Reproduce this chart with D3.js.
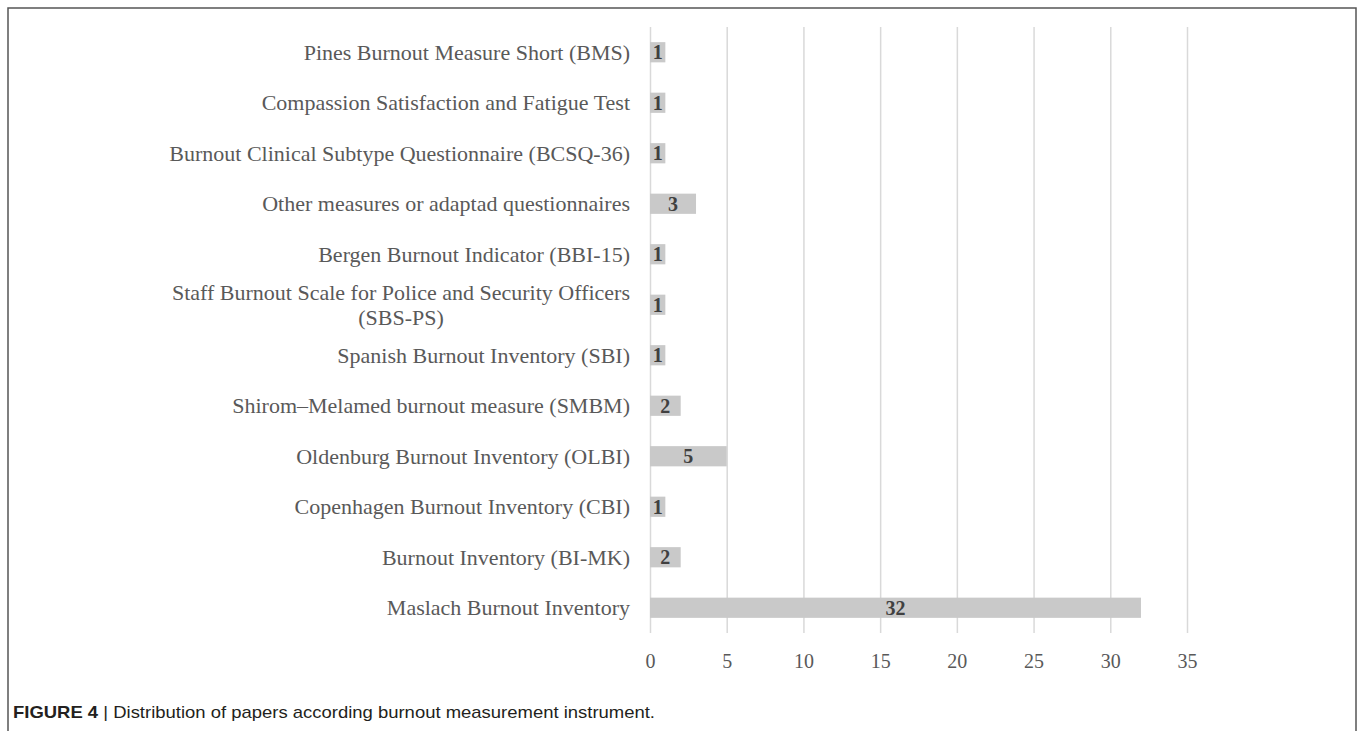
<!DOCTYPE html>
<html>
<head>
<meta charset="utf-8">
<script src="https://cdn.jsdelivr.net/npm/d3@7"></script>
<style>
  body { margin: 0; background: #fff; }
  svg { display: block; }
</style>
</head>
<body>
<svg id="chart" width="1358" height="731"></svg>
<script>
// categories from top to bottom, as in the figure
var instruments = [
    ["Pines Burnout Measure Short (BMS)"],
    ["Compassion Satisfaction and Fatigue Test"],
    ["Burnout Clinical Subtype Questionnaire (BCSQ-36)"],
    ["Other measures or adaptad questionnaires"],
    ["Bergen Burnout Indicator (BBI-15)"],
    ["Staff Burnout Scale for Police and Security Officers", "(SBS-PS)"],
    ["Spanish Burnout Inventory (SBI)"],
    ["Shirom\u2013Melamed burnout measure (SMBM)"],
    ["Oldenburg Burnout Inventory (OLBI)"],
    ["Copenhagen Burnout Inventory (CBI)"],
    ["Burnout Inventory (BI-MK)"],
    ["Maslach Burnout Inventory"]
];
var papers = [1, 1, 1, 3, 1, 1, 1, 2, 5, 1, 2, 32];
var xTicks = [0, 5, 10, 15, 20, 25, 30, 35];

var svg = d3.select("#chart");

var marge = {haut: 27, droite: 171, bas: 96, gauche: 650};
var largeur = 1358, hauteur = 731;

var xScale = d3.scaleLinear().domain([0, 35]).range([marge.gauche, largeur - marge.droite]);
var yScale = d3.scaleBand()
    .domain(d3.range(instruments.length))
    .range([marge.haut, hauteur - marge.bas - 2])
    .paddingInner(0.6)
    .paddingOuter(0.3);

// frame around the figure
svg.append("rect")
    .attr("x", 8).attr("y", 8)
    .attr("width", 1348).attr("height", 760)
    .style("fill", "none")
    .style("stroke", "#555")
    .style("stroke-width", 1.5);

// vertical grid + tick labels
var gridBas = hauteur - marge.bas - 2;
var xAxis = g => g
    .attr("transform", `translate(0,${gridBas})`)
    .call(d3.axisBottom(xScale).tickValues(xTicks).tickSize(-(gridBas - marge.haut)).tickPadding(21))
    .call(g => g.select(".domain").remove())
    .call(g => g.selectAll(".tick line").style("stroke", "#d9d9d9").style("stroke-width", 1.5))
    .call(g => g.selectAll(".tick text")
        .style("font-family", "'Liberation Serif', 'Times New Roman', serif")
        .style("font-size", "20px")
        .style("fill", "#595959"));
svg.append("g").call(xAxis);

// bars
svg.selectAll("rect.bar")
    .data(papers)
    .enter()
    .append("rect")
    .attr("class", "bar")
    .attr("x", xScale(0))
    .attr("y", (d, i) => yScale(i))
    .attr("width", d => xScale(d) - xScale(0))
    .attr("height", yScale.bandwidth())
    .style("fill", "#c9c9c9");

// value labels
svg.selectAll("text.valeur")
    .data(papers)
    .enter()
    .append("text")
    .attr("class", "valeur")
    .attr("x", d => (xScale(d) + xScale(0)) / 2)
    .attr("y", (d, i) => yScale(i) + yScale.bandwidth() / 2)
    .attr("dy", "0.36em")
    .style("text-anchor", "middle")
    .style("font-family", "'Liberation Serif', 'Times New Roman', serif")
    .style("font-weight", "bold")
    .style("font-size", "20px")
    .style("fill", "#404040")
    .text(d => d);

// category labels (wrapped ones centred on the longest line)
var etiquettes = svg.selectAll("g.etiquette")
    .data(instruments)
    .enter()
    .append("g")
    .attr("class", "etiquette")
    .attr("transform", (d, i) => `translate(630,${yScale(i) + yScale.bandwidth() / 2})`);

etiquettes.each(function(lignes) {
    var g = d3.select(this);
    var t = g.append("text")
        .style("font-family", "'Liberation Serif', 'Times New Roman', serif")
        .style("font-size", "22px")
        .style("fill", "#595959");
    if (lignes.length == 1) {
        t.attr("text-anchor", "end").attr("dy", "0.35em").text(lignes[0]);
    } else {
        t.text(lignes[0]);
        var w = t.node().getComputedTextLength();
        t.text(null).attr("text-anchor", "middle");
        lignes.forEach(function(l, k) {
            t.append("tspan")
                .attr("x", -w / 2)
                .attr("y", (k - (lignes.length - 1) / 2) * 25)
                .attr("dy", "0.35em")
                .text(l);
        });
    }
});

// caption
var legende = svg.append("text")
    .attr("x", 13)
    .attr("y", 718)
    .style("font-family", "'Liberation Sans', Arial, sans-serif")
    .style("font-size", "17px")
    .style("fill", "#231f20");
legende.append("tspan").style("font-weight", "bold").text("FIGURE 4");
legende.append("tspan").text(" | Distribution of papers according burnout measurement instrument.");
legende.attr("textLength", 642).attr("lengthAdjust", "spacingAndGlyphs");
</script>
</body>
</html>
